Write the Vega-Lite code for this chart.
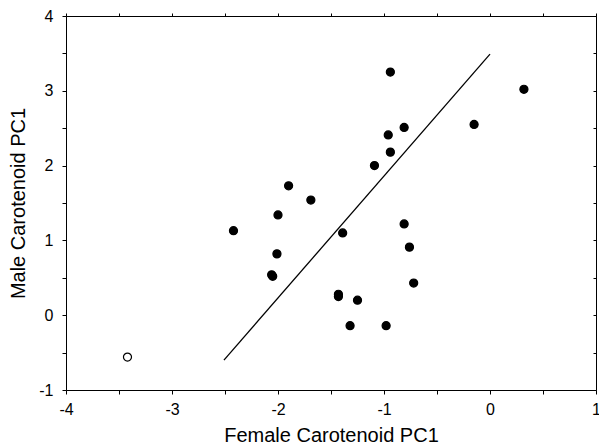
{
  "$schema": "https://vega.github.io/schema/vega-lite/v6.json",
  "width": 530,
  "height": 374,
  "autosize": {"type": "none"},
  "padding": {"left": 66, "top": 16, "right": 3, "bottom": 57},
  "background": "white",
  "config": {
    "view": {"stroke": null},
    "axis": {
      "labelFont": "Liberation Sans",
      "titleFont": "Liberation Sans",
      "labelFontSize": 16,
      "titleFontSize": 20,
      "titleFontWeight": "normal",
      "labelColor": "black",
      "titleColor": "black",
      "domainColor": "black",
      "tickColor": "black",
      "grid": false,
      "tickSize": 4
    }
  },
  "datasets": {
    "pts": [
      {"female": -2.42, "male": 1.13, "kind": "filled"},
      {"female": -2.01, "male": 0.82, "kind": "filled"},
      {"female": -2.06, "male": 0.54, "kind": "filled"},
      {"female": -2.05, "male": 0.52, "kind": "filled"},
      {"female": -2.0, "male": 1.34, "kind": "filled"},
      {"female": -1.9, "male": 1.73, "kind": "filled"},
      {"female": -1.69, "male": 1.54, "kind": "filled"},
      {"female": -1.39, "male": 1.1, "kind": "filled"},
      {"female": -1.43, "male": 0.28, "kind": "filled"},
      {"female": -1.43, "male": 0.25, "kind": "filled"},
      {"female": -1.25, "male": 0.2, "kind": "filled"},
      {"female": -1.32, "male": -0.14, "kind": "filled"},
      {"female": -0.98, "male": -0.14, "kind": "filled"},
      {"female": -0.72, "male": 0.43, "kind": "filled"},
      {"female": -0.76, "male": 0.91, "kind": "filled"},
      {"female": -0.81, "male": 1.22, "kind": "filled"},
      {"female": -0.94, "male": 3.25, "kind": "filled"},
      {"female": -0.96, "male": 2.41, "kind": "filled"},
      {"female": -0.81, "male": 2.51, "kind": "filled"},
      {"female": -0.94, "male": 2.18, "kind": "filled"},
      {"female": -1.09, "male": 2.0, "kind": "filled"},
      {"female": -0.15, "male": 2.55, "kind": "filled"},
      {"female": 0.32, "male": 3.02, "kind": "filled"},
      {"female": -3.42, "male": -0.56, "kind": "open"}
    ],
    "fit": [
      {"female": -2.51, "male": -0.6},
      {"female": 0.0, "male": 3.49}
    ]
  },
  "resolve": {"axis": {"x": "independent", "y": "independent"}},
  "layer": [
    {
      "data": {"name": "fit"},
      "mark": {"type": "line", "color": "black", "strokeWidth": 1.3},
      "encoding": {
        "x": {
          "field": "female", "type": "quantitative",
          "scale": {"domain": [-4, 1], "nice": false, "zero": false},
          "axis": {
            "title": "Female Carotenoid PC1",
            "values": [-4, -3.5, -3, -2.5, -2, -1.5, -1, -0.5, 0, 0.5, 1],
            "labelExpr": "datum.value % 1 == 0 ? toString(datum.value) : ''",
            "labelPadding": 7,
            "titlePadding": 8,
            "labelFlush": false
          }
        },
        "y": {
          "field": "male", "type": "quantitative",
          "scale": {"domain": [-1, 4], "nice": false, "zero": false},
          "axis": {
            "title": "Male Carotenoid PC1",
            "values": [-1, -0.5, 0, 0.5, 1, 1.5, 2, 2.5, 3, 3.5, 4],
            "labelExpr": "datum.value % 1 == 0 ? toString(datum.value) : ''",
            "labelPadding": 9,
            "titlePadding": 10,
            "labelFlush": false
          }
        }
      }
    },
    {
      "data": {"name": "pts"},
      "mark": {"type": "point", "shape": "circle", "size": 65, "stroke": "black", "strokeWidth": 1.2, "opacity": 1},
      "encoding": {
        "x": {
          "field": "female", "type": "quantitative",
          "scale": {"domain": [-4, 1], "nice": false, "zero": false},
          "axis": null
        },
        "y": {
          "field": "male", "type": "quantitative",
          "scale": {"domain": [-1, 4], "nice": false, "zero": false},
          "axis": null
        },
        "fill": {
          "field": "kind", "type": "nominal",
          "scale": {"domain": ["filled", "open"], "range": ["black", "white"]},
          "legend": null
        }
      }
    },
    {
      "data": {"name": "fit"},
      "mark": {"type": "rule", "opacity": 0},
      "encoding": {
        "x": {
          "field": "female", "type": "quantitative",
          "scale": {"domain": [-4, 1], "nice": false, "zero": false},
          "axis": {"orient": "top", "title": null, "labels": false, "tickSize": 3,
            "values": [-4, -3.5, -3, -2.5, -2, -1.5, -1, -0.5, 0, 0.5, 1]}
        },
        "y": {
          "field": "male", "type": "quantitative",
          "scale": {"domain": [-1, 4], "nice": false, "zero": false},
          "axis": {"orient": "right", "title": null, "labels": false, "tickSize": -3,
            "values": [-1, -0.5, 0, 0.5, 1, 1.5, 2, 2.5, 3, 3.5, 4]}
        }
      }
    }
  ]
}
